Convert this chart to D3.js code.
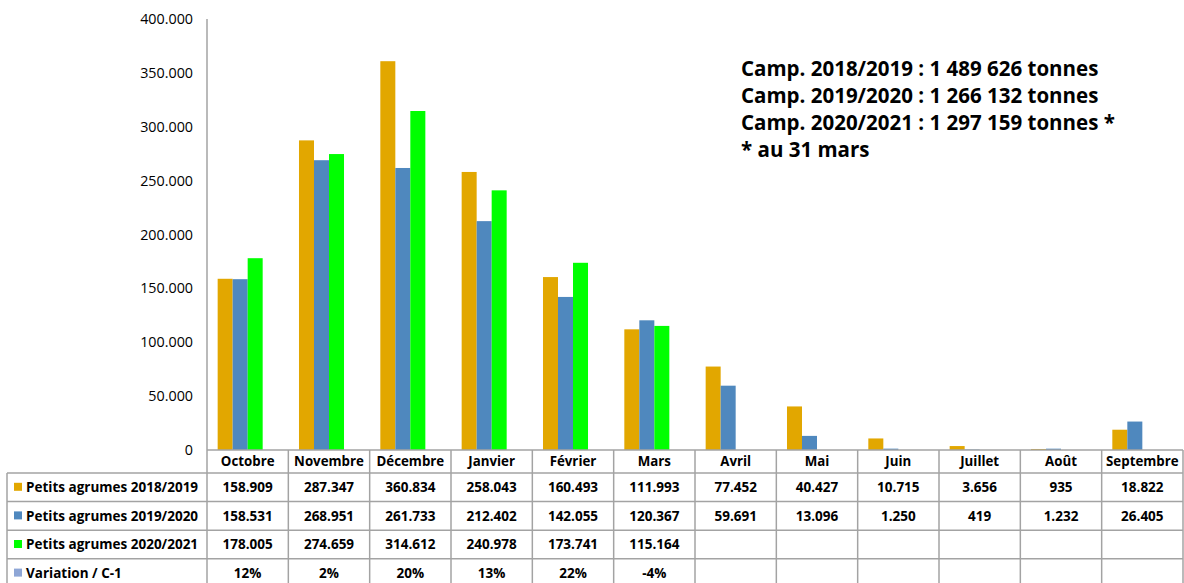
<!DOCTYPE html>
<html>
<head>
<meta charset="utf-8">
<script src="https://cdn.jsdelivr.net/npm/d3@7"></script>
<style>
  body { margin: 0; background: #fff; }
  svg { display: block; font-family: "Open Sans", "Noto Sans", sans-serif; }
</style>
</head>
<body>
<div id="chart"></div>
<script>
// chart values
var months = ['Octobre', 'Novembre', 'Décembre', 'Janvier', 'Février', 'Mars',
              'Avril', 'Mai', 'Juin', 'Juillet', 'Août', 'Septembre'];
var seriesNames = ['Petits agrumes 2018/2019', 'Petits agrumes 2019/2020',
                   'Petits agrumes 2020/2021', 'Variation / C-1'];
var camp1819 = [158909, 287347, 360834, 258043, 160493, 111993, 77452, 40427, 10715, 3656, 935, 18822];
var camp1920 = [158531, 268951, 261733, 212402, 142055, 120367, 59691, 13096, 1250, 419, 1232, 26405];
var camp2021 = [178005, 274659, 314612, 240978, 173741, 115164, null, null, null, null, null, null];
var variation = [0.12, 0.02, 0.20, 0.13, 0.22, -0.04, null, null, null, null, null, null];
var yTicks = [0, 50000, 100000, 150000, 200000, 250000, 300000, 350000, 400000];
var notes = ['Camp. 2018/2019 : 1 489 626 tonnes',
             'Camp. 2019/2020 : 1 266 132 tonnes',
             'Camp. 2020/2021 : 1 297 159 tonnes *',
             '* au 31 mars'];

var colors = ['#e2a700', '#4f88be', '#00ff00', '#8ea6d6'];
var width = 1184, height = 583;
var plotLeft = 207, plotRight = 1183, plotTop = 19, plotBottom = 450;
var tableLeft = 7, headerBottom = 473, rowH = 28.6;

var svg = d3.select('#chart').append('svg')
    .attr('width', width)
    .attr('height', height);

var x0 = d3.scaleBand().domain(months).range([plotLeft, plotRight]).padding(0);
// 4 slots per month: the variation series takes the last one (too small to see)
var x1 = d3.scaleBand().domain(d3.range(4)).range([0, x0.bandwidth()])
    .paddingInner(0).paddingOuter(0.71);
var y = d3.scaleLinear().domain([0, 400000]).range([plotBottom, plotTop]);

// y axis labels
svg.append('g')
    .selectAll('text')
    .data(yTicks)
    .join('text')
    .attr('x', 193)
    .attr('y', d => y(d))
    .attr('dy', '0.35em')
    .attr('text-anchor', 'end')
    .attr('font-size', 14.3)
    .attr('fill', '#000')
    .text(d => d === 0 ? '0' : d3.format(',')(d).replace(/,/g, '.'));

// bars
var allSeries = [camp1819, camp1920, camp2021, variation];
var bars = [];
allSeries.forEach(function(s, si) {
    s.forEach(function(v, mi) {
        if (v !== null) bars.push({s: si, m: months[mi], v: Math.max(0, v)});
    });
});
svg.append('g')
    .selectAll('rect')
    .data(bars)
    .join('rect')
    .attr('x', d => x0(d.m) + x1(d.s))
    .attr('width', x1.bandwidth())
    .attr('y', d => y(d.v))
    .attr('height', d => y(0) - y(d.v))
    .attr('fill', d => colors[d.s]);

// table grid
var grid = svg.append('g').attr('stroke', '#a3a3a3').attr('stroke-width', 1.5);
var rowLines = d3.range(5).map(i => headerBottom + i * rowH);
grid.append('line')
    .attr('x1', plotLeft).attr('x2', plotRight)
    .attr('y1', plotBottom).attr('y2', plotBottom);
grid.selectAll('.hline')
    .data(rowLines)
    .join('line')
    .attr('class', 'hline')
    .attr('x1', tableLeft).attr('x2', plotRight)
    .attr('y1', d => d).attr('y2', d => d);
grid.append('line')
    .attr('x1', plotLeft).attr('x2', plotLeft)
    .attr('y1', plotTop).attr('y2', height);
grid.append('line')
    .attr('x1', tableLeft).attr('x2', tableLeft)
    .attr('y1', headerBottom).attr('y2', height);
grid.selectAll('.vline')
    .data(months)
    .join('line')
    .attr('class', 'vline')
    .attr('x1', d => x0(d) + x0.bandwidth()).attr('x2', d => x0(d) + x0.bandwidth())
    .attr('y1', plotBottom).attr('y2', height);

// month headers
svg.append('g')
    .selectAll('text')
    .data(months)
    .join('text')
    .attr('x', d => x0(d) + x0.bandwidth() / 2)
    .attr('y', (plotBottom + headerBottom) / 2)
    .attr('dy', '0.35em')
    .attr('text-anchor', 'middle')
    .attr('font-size', 13.3)
    .attr('font-weight', 'bold')
    .text(d => d);

// rows
function fmtVal(v) {
    return d3.format(',')(v).replace(/,/g, '.');
}
allSeries.forEach(function(s, si) {
    var cy = headerBottom + si * rowH + rowH / 2;
    var row = svg.append('g').attr('font-size', 13.5).attr('font-weight', 'bold');
    row.append('rect')
        .attr('x', 14).attr('y', cy - 4.5)
        .attr('width', 8).attr('height', 8)
        .attr('fill', colors[si]);
    row.append('text')
        .attr('x', 26).attr('y', cy).attr('dy', '0.35em')
        .text(seriesNames[si]);
    row.selectAll('.val')
        .data(s)
        .join('text')
        .attr('class', 'val')
        .attr('x', (d, i) => x0(months[i]) + x0.bandwidth() / 2)
        .attr('y', cy).attr('dy', '0.35em')
        .attr('text-anchor', 'middle')
        .text(d => d === null ? '' : (si === 3 ? Math.round(d * 100) + '%' : fmtVal(d)));
});

// campaign totals
svg.append('g')
    .selectAll('text')
    .data(notes)
    .join('text')
    .attr('x', 741)
    .attr('y', (d, i) => 69 + i * 26.8)
    .attr('dy', '0.35em')
    .attr('font-size', 20.5)
    .attr('font-weight', 'bold')
    .text(d => d);
</script>
</body>
</html>
